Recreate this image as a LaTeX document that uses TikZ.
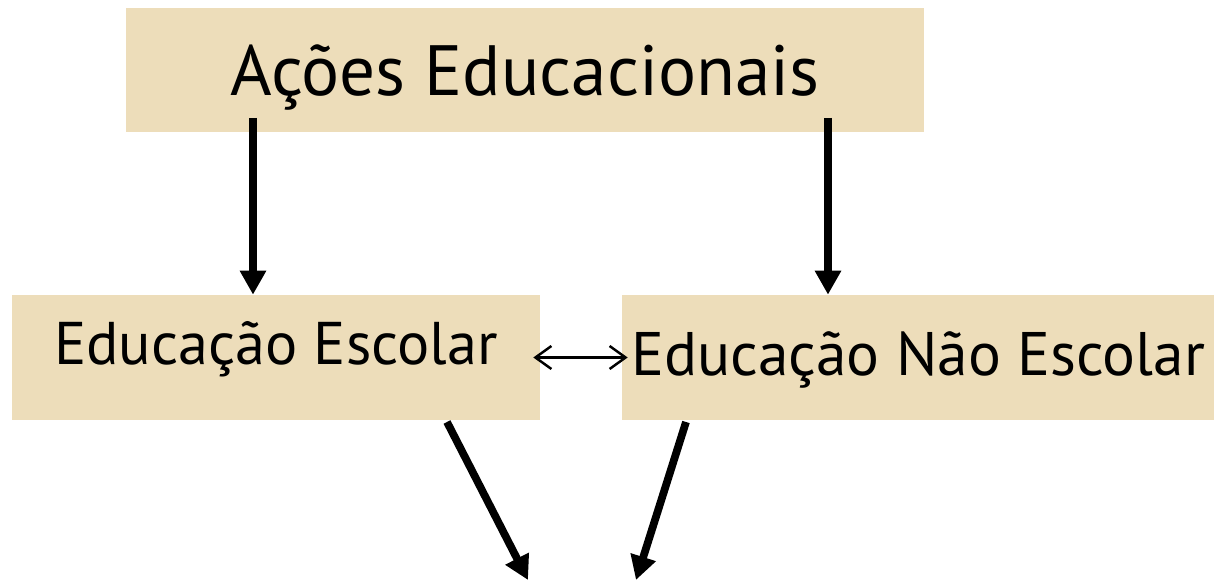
\documentclass[tikz,border=0pt]{standalone}
\usepackage{fontspec}
\setmainfont{PT Sans}
\usetikzlibrary{arrows.meta}
\definecolor{parchment}{RGB}{237,221,186}
\tikzset{
  box/.style={fill=parchment, inner sep=0pt, text height=1.2cm},
  bigarrow/.style={line width=4.4pt, -{Triangle[length=0.48cm,width=0.5cm]}},
  thinarrow/.style={line width=1.4pt, {Straight Barb[length=0.32cm,width=0.46cm]}-{Straight Barb[length=0.32cm,width=0.46cm]}}
}
\begin{document}
\begin{tikzpicture}[x=0.02cm, y=-0.02cm]
  \useasboundingbox (0,0) rectangle (1214,580);
  % boxes
  \node[box, minimum width=15.96cm, minimum height=2.48cm, text depth=0.16cm,
        font=\fontsize{40.5}{48}\selectfont] (acoes) at (525,70) {Ações Educacionais};
  \node[box, minimum width=10.56cm, minimum height=2.5cm, text depth=0.9cm,
        font=\fontsize{34.3}{40}\selectfont] (escolar) at (276,357.5) {Educação Escolar};
  \node[box, minimum width=11.84cm, minimum height=2.5cm, text depth=0.46cm,
        font=\fontsize{35}{42}\selectfont] (naoescolar) at (918,357.5) {Educação Não Escolar};
  % arrows
  \coordinate (a1) at (253,118);
  \coordinate (a2) at (828,118);
  \coordinate (b1) at (447,422);
  \coordinate (b2) at (686,422);
  \coordinate (e1) at (528,580);
  \coordinate (e2) at (636,580);
  \draw[bigarrow] (a1) -- (a1 |- escolar.north);
  \draw[bigarrow] (a2) -- (a2 |- naoescolar.north);
  \draw[thinarrow, shorten <=-0.14cm, shorten >=-0.12cm] (escolar.east) -- (naoescolar.west);
  \draw[bigarrow] (b1) -- (e1);
  \draw[bigarrow] (b2) -- (e2);
\end{tikzpicture}
\end{document}
